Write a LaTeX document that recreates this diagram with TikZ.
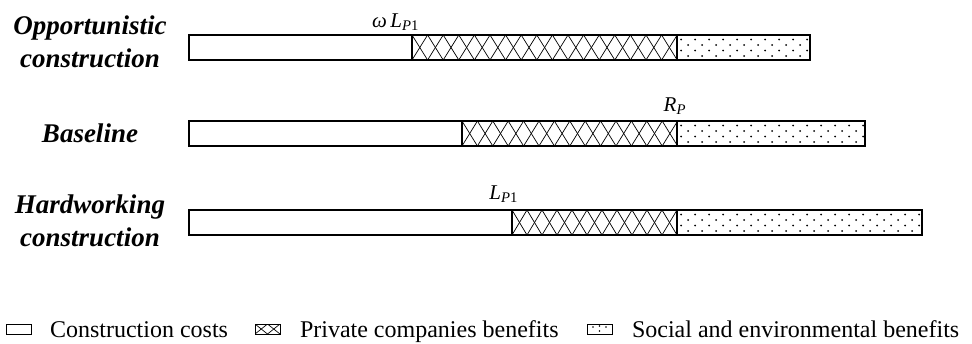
\documentclass[tikz,border=0pt]{standalone}
\usepackage{fontspec}
\setmainfont{Liberation Serif}
\usepackage{tikz}

\begin{document}
\begin{tikzpicture}[x=1pt,y=-1pt,line cap=rect]
						\def\scenariofont{\fontsize{27pt}{33pt}\selectfont\bfseries\itshape}
						\def\markfont{\fontsize{21pt}{21pt}\selectfont}
						\def\legendfont{\fontsize{24pt}{24pt}\selectfont}
						\definecolor{custcol_0_0_0}{RGB}{0, 0, 0}
						\definecolor{custcol_ff_ff_ff}{RGB}{255, 255, 255}
						% crosshatch: left, right, top, bottom, pitch
						\def\crosshatch#1#2#3#4#5{%
							\begin{scope}
							\clip (#1,#3) rectangle (#2,#4);
							\foreach \k in {0,...,20} {
								\draw [line width=0.7pt, custcol_0_0_0 ]  ({#1+\k*#5},#3) -- ({#1+(\k+1)*#5},#4) ;
								\draw [line width=0.7pt, custcol_0_0_0 ]  ({#1+(\k+1)*#5},#3) -- ({#1+\k*#5},#4) ;
							}
							\end{scope}}
						% dots: left, right, top, bottom
						\def\dotgrid#1#2#3#4{%
							\begin{scope}
							\clip (#1,#3) rectangle (#2,#4);
							\foreach \i in {0,...,18} {
								\foreach \j in {0,1,2,3} {
									\fill [custcol_0_0_0]  ({#1+4+\i*14+mod(\j,2)*7},{#3+4.5+\j*5.5}) circle (1.0) ;
								}
							}
							\end{scope}}
						\useasboundingbox (0,0) rectangle (972,343);
						% Opportunistic construction
						\crosshatch{412}{677}{35}{60}{15.6}
						\dotgrid{677}{810}{35}{60}
						\draw [line width=1.2pt, custcol_0_0_0 ]  (189,35) rectangle (412,60) ;
						\draw [line width=1.2pt, custcol_0_0_0 ]  (412,35) rectangle (677,60) ;
						\draw [line width=1.2pt, custcol_0_0_0 ]  (677,35) rectangle (810,60) ;
						% Baseline
						\crosshatch{462}{677}{121}{146}{15.4}
						\dotgrid{677}{865}{121}{146}
						\draw [line width=1.2pt, custcol_0_0_0 ]  (189,121) rectangle (462,146) ;
						\draw [line width=1.2pt, custcol_0_0_0 ]  (462,121) rectangle (677,146) ;
						\draw [line width=1.2pt, custcol_0_0_0 ]  (677,121) rectangle (865,146) ;
						% Hardworking construction
						\crosshatch{512}{677}{210}{235}{15.0}
						\dotgrid{677}{922}{210}{235}
						\draw [line width=1.2pt, custcol_0_0_0 ]  (189,210) rectangle (512,235) ;
						\draw [line width=1.2pt, custcol_0_0_0 ]  (512,210) rectangle (677,235) ;
						\draw [line width=1.2pt, custcol_0_0_0 ]  (677,210) rectangle (922,235) ;
						\draw [line width=2.2pt, custcol_0_0_0 ]  (922,211) -- (922,234) ;
						\node (opp) [inner sep=0, outer sep=0, custcol_0_0_0, align=center, font=\scenariofont] at  (90,42)  {Opportunistic\\construction};
						\node (base) [inner sep=0, outer sep=0, custcol_0_0_0, anchor=base, font=\scenariofont] at  (90,142)  {Baseline};
						\node (hard) [inner sep=0, outer sep=0, custcol_0_0_0, align=center, font=\scenariofont] at  (90,221)  {Hardworking\\construction};
						\node (wlp) [inner sep=0, outer sep=0, custcol_0_0_0, anchor=base east, font=\markfont] at  (419,27)  {\textit{ω}\,\textit{L}\textsubscript{\textit{P}1}};
						\node (rp) [inner sep=0, outer sep=0, custcol_0_0_0, anchor=base east, font=\markfont] at  (686,111)  {\textit{R}\textsubscript{\textit{P}}};
						\node (lp) [inner sep=0, outer sep=0, custcol_0_0_0, anchor=base east, font=\markfont] at  (518,199)  {\textit{L}\textsubscript{\textit{P}1}};
						% legend
						\draw [line width=1.0pt, custcol_0_0_0 ]  (6,324) rectangle (31,334) ;
						\node (legcost) [inner sep=0, outer sep=0, custcol_0_0_0, anchor=base west, font=\legendfont] at  (50,337)  {Construction costs};
						\crosshatch{255}{280}{324}{334}{12.5}
						\draw [line width=1.0pt, custcol_0_0_0 ]  (255,324) rectangle (280,334) ;
						\node (legpriv) [inner sep=0, outer sep=0, custcol_0_0_0, anchor=base west, font=\legendfont] at  (300,337)  {Private companies benefits};
						\fill [custcol_0_0_0]  (593,327) circle (0.9) ;
						\fill [custcol_0_0_0]  (599.5,326) circle (0.9) ;
						\fill [custcol_0_0_0]  (606,327) circle (0.9) ;
						\fill [custcol_0_0_0]  (599.5,331) circle (0.9) ;
						\draw [line width=1.0pt, custcol_0_0_0 ]  (587,324) rectangle (612,334) ;
						\node (legsoc) [inner sep=0, outer sep=0, custcol_0_0_0, anchor=base west, font=\legendfont] at  (632,337)  {Social and environmental benefits};
						\end{tikzpicture}
\end{document}
